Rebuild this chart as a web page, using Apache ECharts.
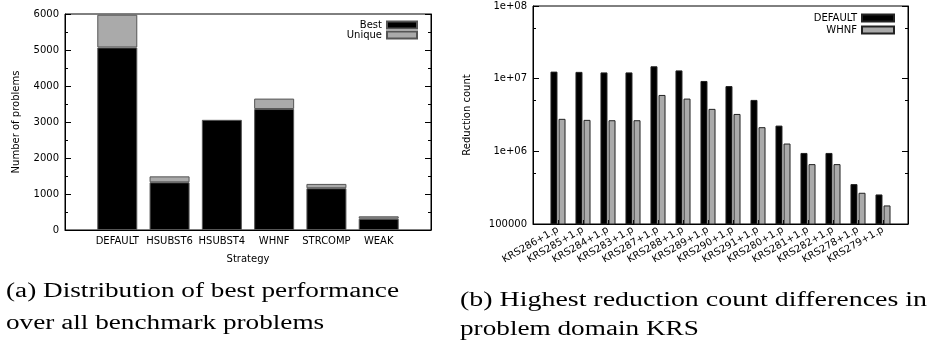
<!DOCTYPE html>
<html>
<head>
<meta charset="utf-8">
<script src="https://cdn.jsdelivr.net/npm/echarts@6/dist/echarts.min.js"></script>
<style>
  html, body { margin: 0; padding: 0; background: #fff; }
  #chart { width: 930px; height: 345px; }
</style>
</head>
<body>
<div id="chart"></div>
<script>
// (a) distribution of best performance
const strategies = ['DEFAULT', 'HSUBST6', 'HSUBST4', 'WHNF', 'STRCOMP', 'WEAK']
const bestCounts = [5070, 1325, 3060, 3360, 1160, 315]
const uniqueCounts = [910, 165, 0, 290, 120, 65]

// (b) reduction counts in domain KRS
const problems = ['KRS286+1.p', 'KRS285+1.p', 'KRS284+1.p', 'KRS283+1.p', 'KRS287+1.p', 'KRS288+1.p', 'KRS289+1.p',
  'KRS290+1.p', 'KRS291+1.p', 'KRS280+1.p', 'KRS281+1.p', 'KRS282+1.p', 'KRS278+1.p', 'KRS279+1.p']
const defaultCounts = [12500000, 12400000, 12200000, 12200000, 14800000, 13000000, 9300000,
  7900000, 5100000, 2260000, 950000, 950000, 354000, 255000]
const whnfCounts = [2800000, 2710000, 2680000, 2680000, 5970000, 5320000, 3840000,
  3270000, 2150000, 1280000, 667000, 667000, 269000, 180000]
const logTickLabels = ['100000', '1e+06', '1e+07', '1e+08']
const logMinorTicks = [500000, 5000000, 50000000]

const captionA = ['(a) Distribution of best performance', 'over all benchmark problems']
const captionB = ['(b) Highest reduction count differences in', 'problem domain KRS']

const font = 'DejaVu Sans'
const txt = { fontFamily: font, fontSize: 10, color: '#000' }

// gnuplot style: one empty slot on each side of the histogram
const pad = arr => ['', ...arr, '']
const padV = arr => ['-', ...arr.map(v => (v === 0 ? '-' : v)), '-']

// the captions are set wide, like the LaTeX ones in the original
const capFont = '20px "Liberation Serif"'
const measure = (() => {
  const ctx = document.createElement('canvas').getContext('2d')
  ctx.font = capFont
  return s => ctx.measureText(s).width
})()
const stretchA = 393 / measure(captionA[0])
const stretchB = 467 / measure(captionB[0])

const capText = (s, x, y, sx) => ({
  type: 'text',
  x: x, y: y,
  scaleX: sx,
  style: { text: s, font: capFont, fill: '#000', verticalAlign: 'middle' }
})

const chart = echarts.init(document.getElementById('chart'))

const linAxisY = (pos, showLabel) => ({
  type: 'value',
  gridIndex: 0,
  position: pos,
  min: 0,
  max: 6000,
  interval: 1000,
  axisLine: { show: true, lineStyle: { color: '#000' } },
  axisTick: { show: true, inside: true, length: 6, lineStyle: { color: '#000' } },
  minorTick: { show: true, splitNumber: 2, length: 3, lineStyle: { color: '#000' } },
  splitLine: { show: false },
  axisLabel: { show: showLabel, margin: 6, ...txt, formatter: v => String(v) }
})

const logAxisY = (pos, showLabel) => ({
  type: 'log',
  logBase: 10,
  gridIndex: 1,
  position: pos,
  min: 100000,
  max: 100000000,
  axisLine: { show: true, lineStyle: { color: '#000' } },
  axisTick: { show: true, inside: true, length: 6, lineStyle: { color: '#000' } },
  splitLine: { show: false },
  axisLabel: {
    show: showLabel,
    margin: 6,
    ...txt,
    formatter: v => logTickLabels[Math.round(Math.log10(v)) - 5]
  }
})

// short ticks at 5 x 10^n, like gnuplot's minor tics
const logMinorAxisY = pos => ({
  type: 'log',
  logBase: 10,
  gridIndex: 1,
  position: pos,
  min: 100000,
  max: 100000000,
  axisLine: { show: false },
  axisTick: { show: true, inside: true, length: 3, customValues: logMinorTicks, lineStyle: { color: '#000' } },
  axisLabel: { show: false },
  splitLine: { show: false }
})

const option = {
  animation: false,
  grid: [
    { left: 65, top: 14, width: 366, height: 216, show: true, borderColor: '#000', borderWidth: 1 },
    { left: 533, top: 6, width: 375, height: 218, show: true, borderColor: '#000', borderWidth: 1 }
  ],
  graphic: [
    capText(captionA[0], 6, 292, stretchA),
    capText(captionA[1], 6, 324, stretchA),
    capText(captionB[0], 460, 301, stretchB),
    capText(captionB[1], 460, 330, stretchA)
  ],
  legend: [
    {
      data: ['Best', 'Unique'],
      orient: 'vertical',
      right: 512, top: 20,
      padding: 0,
      align: 'right',
      icon: 'rect',
      itemWidth: 30, itemHeight: 7, itemGap: 0,
      textStyle: txt
    },
    {
      data: ['DEFAULT', 'WHNF'],
      orient: 'vertical',
      right: 35, top: 13,
      padding: 0,
      align: 'right',
      icon: 'rect',
      itemWidth: 32, itemHeight: 7, itemGap: 2,
      textStyle: txt
    }
  ],
  xAxis: [
    {
      type: 'category',
      gridIndex: 0,
      data: pad(strategies),
      boundaryGap: false,
      axisLine: { show: true, lineStyle: { color: '#000' } },
      axisTick: { show: true, inside: true, length: 6, lineStyle: { color: '#000' } },
      axisLabel: { margin: 6, interval: 0, ...txt },
      name: 'Strategy',
      nameLocation: 'middle',
      nameGap: 24,
      nameTextStyle: txt
    },
    {
      type: 'category',
      gridIndex: 1,
      data: pad(problems),
      boundaryGap: false,
      axisLine: { show: true, lineStyle: { color: '#000' } },
      axisTick: { show: true, inside: true, length: 4, lineStyle: { color: '#000' } },
      axisLabel: { margin: 5, interval: 0, rotate: 30, ...txt }
    }
  ],
  yAxis: [
    {
      ...linAxisY('left', true),
      name: 'Number of problems',
      nameLocation: 'middle',
      nameGap: 44,
      nameTextStyle: txt
    },
    linAxisY('right', false),
    {
      ...logAxisY('left', true),
      name: 'Reduction count',
      nameLocation: 'middle',
      nameGap: 61,
      nameTextStyle: txt
    },
    logAxisY('right', false),
    logMinorAxisY('left'),
    logMinorAxisY('right')
  ],
  series: [
    {
      name: 'Best',
      type: 'bar',
      xAxisIndex: 0, yAxisIndex: 0,
      stack: 'total',
      barWidth: 40,
      data: padV(bestCounts),
      itemStyle: { color: '#000', borderColor: '#555', borderWidth: 1 }
    },
    {
      name: 'Unique',
      type: 'bar',
      xAxisIndex: 0, yAxisIndex: 0,
      stack: 'total',
      barWidth: 40,
      data: padV(uniqueCounts),
      itemStyle: { color: '#aaa', borderColor: '#555', borderWidth: 1 }
    },
    {
      name: 'DEFAULT',
      type: 'bar',
      xAxisIndex: 1, yAxisIndex: 2,
      barWidth: 7,
      barGap: '15%',
      data: padV(defaultCounts),
      itemStyle: { color: '#000', borderColor: '#222', borderWidth: 1 }
    },
    {
      name: 'WHNF',
      type: 'bar',
      xAxisIndex: 1, yAxisIndex: 2,
      barWidth: 7,
      barGap: '15%',
      data: padV(whnfCounts),
      itemStyle: { color: '#aaa', borderColor: '#222', borderWidth: 1 }
    }
  ]
}

chart.setOption(option)
</script>
</body>
</html>
